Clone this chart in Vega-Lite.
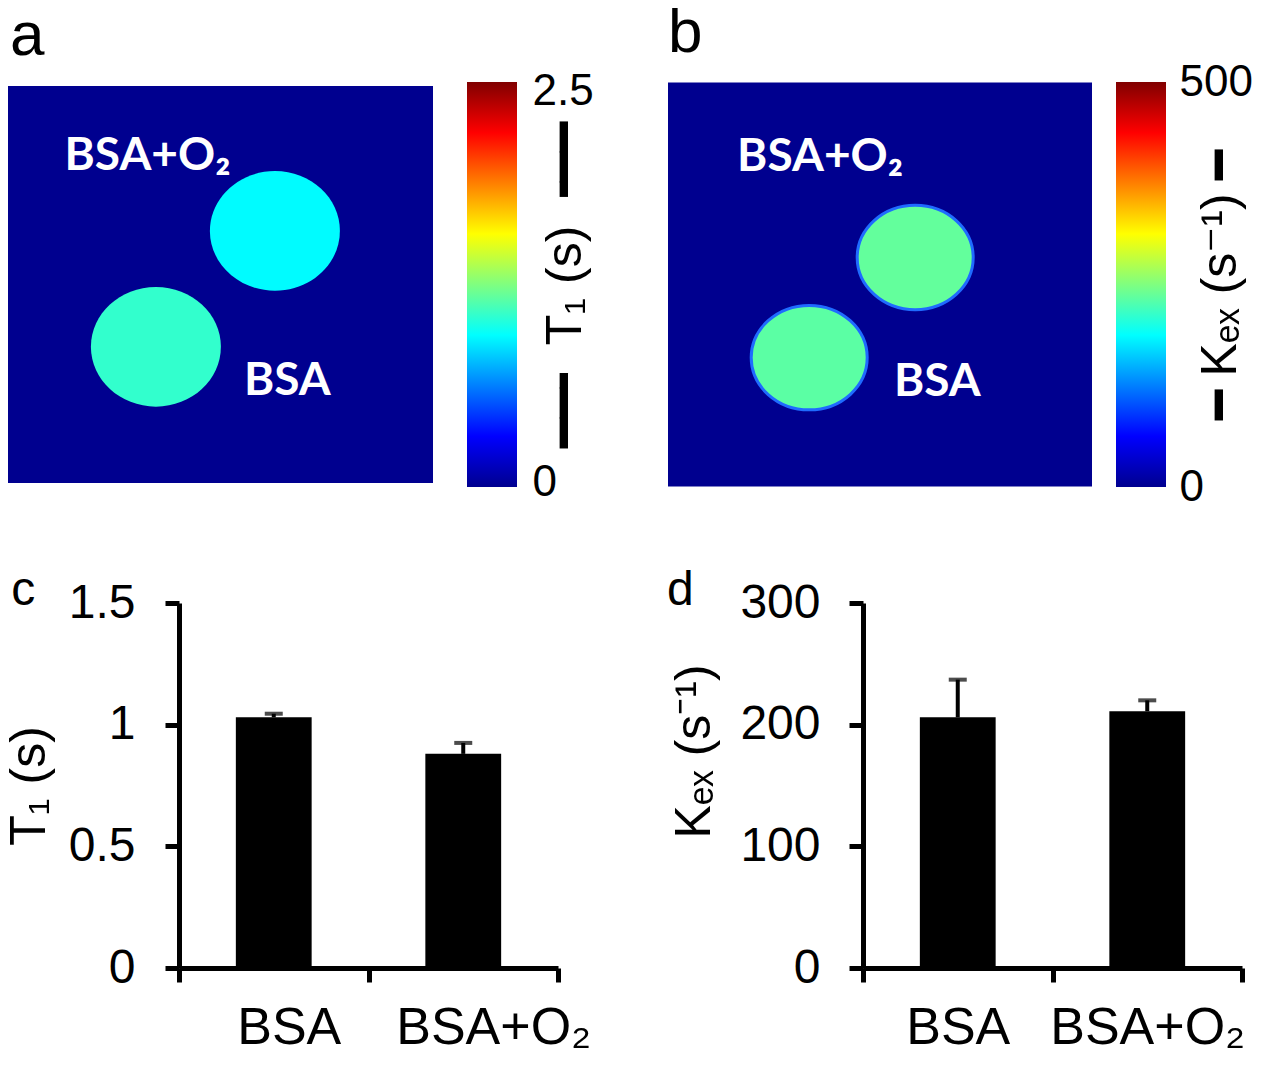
{
  "$schema": "https://vega.github.io/schema/vega-lite/v6.json",
  "padding": {"left": 4, "top": 1, "right": 5, "bottom": 5},
  "background": "white",
  "config": {
    "font": "Liberation Sans",
    "view": {"stroke": null},
    "axis": {"grid": false, "titleFontWeight": "normal", "labelColor": "black", "titleColor": "black", "domainColor": "black", "tickColor": "black", "labelFont": "Liberation Sans", "titleFont": "Liberation Sans"},
    "title": {"fontWeight": "normal", "color": "black", "font": "Liberation Sans"}
  },
  "resolve": {"scale": {"color": "independent"}},
  "spacing": 58,
  "vconcat": [
    {
      "hconcat": [
        {
          "width": 425,
          "height": 397,
          "view": {"fill": "#00008F", "stroke": null},
          "title": {"text": "a", "anchor": "start", "frame": "group", "fontSize": 62, "baseline": "alphabetic", "offset": -31, "dx": 2},
          "layer": [
            {
              "data": {"values": [{"sample": "BSA+O₂", "cx": 62.8, "cy": 63.5, "t1_map": 0.93}, {"sample": "BSA", "cx": 34.8, "cy": 34.3, "t1_map": 1.06}]},
              "mark": {"type": "point", "shape": "M-1,0A1,0.92,0,1,0,1,0A1,0.92,0,1,0,-1,0Z", "filled": true, "size": 16900, "opacity": 1, "strokeWidth": 0},
              "encoding": {
                "x": {"field": "cx", "type": "quantitative", "scale": {"domain": [0, 100], "nice": false}, "axis": null},
                "y": {"field": "cy", "type": "quantitative", "scale": {"domain": [0, 100], "nice": false}, "axis": null},
                "color": {"field": "t1_map", "type": "quantitative", "legend": null, "scale": {"domain": [0, 0.3125, 0.9375, 1.5625, 2.1875, 2.5], "range": ["#00008F", "#0000FF", "#00FFFF", "#FFFF00", "#FF0000", "#800000"], "interpolate": "rgb"}}
              }
            },
            {
              "data": {"values": [{"label": "BSA+O₂", "lx": 13.3, "ly": 78.8}, {"label": "BSA", "lx": 55.5, "ly": 22.2}]},
              "mark": {"type": "text", "align": "left", "baseline": "alphabetic", "color": "white", "font": "Lato", "fontWeight": "bold", "fontSize": 46},
              "encoding": {
                "x": {"field": "lx", "type": "quantitative"},
                "y": {"field": "ly", "type": "quantitative"},
                "text": {"field": "label"}
              }
            }
          ]
        },
        {"width": 34, "height": 10, "data": {"values": []}, "mark": "point"},
        {
          "width": 50,
          "height": 405,
          "data": {"values": [{"lo": 0, "hi": 2.5}]},
          "mark": {"type": "rect", "color": {"gradient": "linear", "x1": 0, "y1": 1, "x2": 0, "y2": 0, "stops": [{"offset": 0, "color": "#00008F"}, {"offset": 0.125, "color": "#0000FF"}, {"offset": 0.375, "color": "#00FFFF"}, {"offset": 0.625, "color": "#FFFF00"}, {"offset": 0.875, "color": "#FF0000"}, {"offset": 1, "color": "#800000"}]}},
          "encoding": {
            "x": {"datum": 0, "type": "quantitative", "scale": {"domain": [0, 1], "nice": false}, "axis": null},
            "x2": {"datum": 1},
            "y": {"field": "lo", "type": "quantitative", "scale": {"domain": [0, 2.5], "nice": false},
              "axis": {"orient": "right", "values": [0, 2.5], "format": ".1~f", "domain": false, "ticks": false, "labelFontSize": 44, "labelPadding": 15,
                "labelOffset": {"condition": {"test": "datum.value === 0", "value": -5}, "value": 9},
                "title": "━━╸ T₁ (s) ╺━━", "titleFontSize": 50, "titleAngle": 270, "titlePadding": -3, "titleLimit": 0}},
            "y2": {"field": "hi"}
          }
        },
        {"width": 151, "height": 10, "data": {"values": []}, "mark": "point"},
        {
          "width": 424,
          "height": 404,
          "view": {"fill": "#00008F", "stroke": null},
          "title": {"text": "b", "anchor": "start", "frame": "group", "fontSize": 62, "baseline": "alphabetic", "offset": -31, "dx": 0},
          "layer": [
            {
              "data": {"values": [{"sample": "BSA+O₂", "cx": 58.3, "cy": 56.7, "kex_map": 236}, {"sample": "BSA", "cx": 33.3, "cy": 31.9, "kex_map": 232}]},
              "mark": {"type": "point", "shape": "M-1,0A1,0.9,0,1,0,1,0A1,0.9,0,1,0,-1,0Z", "filled": true, "size": 13456, "opacity": 1, "stroke": "#1F6BFF", "strokeWidth": 3},
              "encoding": {
                "x": {"field": "cx", "type": "quantitative", "scale": {"domain": [0, 100], "nice": false}, "axis": null},
                "y": {"field": "cy", "type": "quantitative", "scale": {"domain": [0, 100], "nice": false}, "axis": null},
                "color": {"field": "kex_map", "type": "quantitative", "legend": null, "scale": {"domain": [0, 62.5, 187.5, 312.5, 437.5, 500], "range": ["#00008F", "#0000FF", "#00FFFF", "#FFFF00", "#FF0000", "#800000"], "interpolate": "rgb"}}
              }
            },
            {
              "data": {"values": [{"label": "BSA+O₂", "lx": 16.3, "ly": 78.2}, {"label": "BSA", "lx": 53.3, "ly": 22.5}]},
              "mark": {"type": "text", "align": "left", "baseline": "alphabetic", "color": "white", "font": "Lato", "fontWeight": "bold", "fontSize": 46},
              "encoding": {
                "x": {"field": "lx", "type": "quantitative"},
                "y": {"field": "ly", "type": "quantitative"},
                "text": {"field": "label"}
              }
            }
          ]
        },
        {"width": 24, "height": 10, "data": {"values": []}, "mark": "point"},
        {
          "width": 50,
          "height": 405,
          "data": {"values": [{"lo": 0, "hi": 500}]},
          "mark": {"type": "rect", "color": {"gradient": "linear", "x1": 0, "y1": 1, "x2": 0, "y2": 0, "stops": [{"offset": 0, "color": "#00008F"}, {"offset": 0.125, "color": "#0000FF"}, {"offset": 0.375, "color": "#00FFFF"}, {"offset": 0.625, "color": "#FFFF00"}, {"offset": 0.875, "color": "#FF0000"}, {"offset": 1, "color": "#800000"}]}},
          "encoding": {
            "x": {"datum": 0, "type": "quantitative", "scale": {"domain": [0, 1], "nice": false}, "axis": null},
            "x2": {"datum": 1},
            "y": {"field": "lo", "type": "quantitative", "scale": {"domain": [0, 500], "nice": false},
              "axis": {"orient": "right", "values": [0, 500], "format": "~r", "domain": false, "ticks": false, "labelFontSize": 44, "labelPadding": 13,
                "title": "━   Kₑₓ (s⁻¹)    ━", "titleFontSize": 50, "titleAngle": 270, "titlePadding": -7, "titleLimit": 0}},
            "y2": {"field": "hi"}
          }
        }
      ],
      "spacing": 0,
      "bounds": "flush",
      "center": true,
      "resolve": {"scale": {"color": "independent"}}
    },
    {
      "hconcat": [
        {"width": 171, "height": 10, "data": {"values": []}, "mark": "point"},
        {
          "width": 379,
          "height": 365,
          "title": {"text": "c", "anchor": "start", "frame": "bounds", "fontSize": 48, "baseline": "alphabetic", "offset": -74, "dx": 7},
          "data": {"values": [{"sample": "BSA", "t1": 1.03, "upper": 1.045}, {"sample": "BSA+O₂", "t1": 0.88, "upper": 0.925}]},
          "encoding": {
            "x": {"field": "sample", "type": "nominal", "sort": null, "scale": {"paddingInner": 0, "paddingOuter": 0},
              "axis": {"title": null, "tickBand": "extent", "domainWidth": 5, "tickWidth": 5, "tickSize": 14, "labelFontSize": 52, "labelAngle": 0, "labelPadding": 20, "labelLimit": 0,
                "labelOffset": {"condition": {"test": "datum.value === 'BSA'", "value": 15}, "value": 30}}}
          },
          "layer": [
            {
              "mark": {"type": "rule", "strokeWidth": 4, "color": "black"},
              "encoding": {
                "y": {"field": "t1", "type": "quantitative", "scale": {"domain": [0, 1.5], "nice": false},
                  "axis": {"values": [0, 0.5, 1, 1.5], "format": ".1~f", "domainWidth": 5, "tickWidth": 5, "tickSize": 14, "labelFontSize": 48, "labelPadding": 30, "title": "T₁ (s)", "titleFontSize": 50, "titlePadding": 14}},
                "y2": {"field": "upper"}
              }
            },
            {
              "mark": {"type": "bar", "color": "black", "width": {"band": 0.4}},
              "encoding": {"y": {"field": "t1", "type": "quantitative"}}
            },
            {
              "mark": {"type": "tick", "color": "black", "thickness": 4, "size": 18},
              "encoding": {"y": {"field": "upper", "type": "quantitative"}}
            }
          ]
        },
        {"width": 305, "height": 10, "data": {"values": []}, "mark": "point"},
        {
          "width": 379,
          "height": 365,
          "title": {"text": "d", "anchor": "start", "frame": "bounds", "fontSize": 48, "baseline": "alphabetic", "offset": -74, "dx": -3},
          "data": {"values": [{"sample": "BSA", "kex": 206, "upper": 237}, {"sample": "BSA+O₂", "kex": 211, "upper": 220}]},
          "encoding": {
            "x": {"field": "sample", "type": "nominal", "sort": null, "scale": {"paddingInner": 0, "paddingOuter": 0},
              "axis": {"title": null, "tickBand": "extent", "domainWidth": 5, "tickWidth": 5, "tickSize": 14, "labelFontSize": 52, "labelAngle": 0, "labelPadding": 20, "labelLimit": 0}}
          },
          "layer": [
            {
              "mark": {"type": "rule", "strokeWidth": 4, "color": "black"},
              "encoding": {
                "y": {"field": "kex", "type": "quantitative", "scale": {"domain": [0, 300], "nice": false},
                  "axis": {"values": [0, 100, 200, 300], "format": "~r", "domainWidth": 5, "tickWidth": 5, "tickSize": 14, "labelFontSize": 48, "labelPadding": 29, "title": "Kₑₓ (s⁻¹)", "titleFontSize": 50, "titlePadding": 20, "titleY": 148}},
                "y2": {"field": "upper"}
              }
            },
            {
              "mark": {"type": "bar", "color": "black", "width": {"band": 0.4}},
              "encoding": {"y": {"field": "kex", "type": "quantitative"}}
            },
            {
              "mark": {"type": "tick", "color": "black", "thickness": 4, "size": 18},
              "encoding": {"y": {"field": "upper", "type": "quantitative"}}
            }
          ]
        }
      ],
      "spacing": 0,
      "bounds": "flush"
    }
  ]
}
